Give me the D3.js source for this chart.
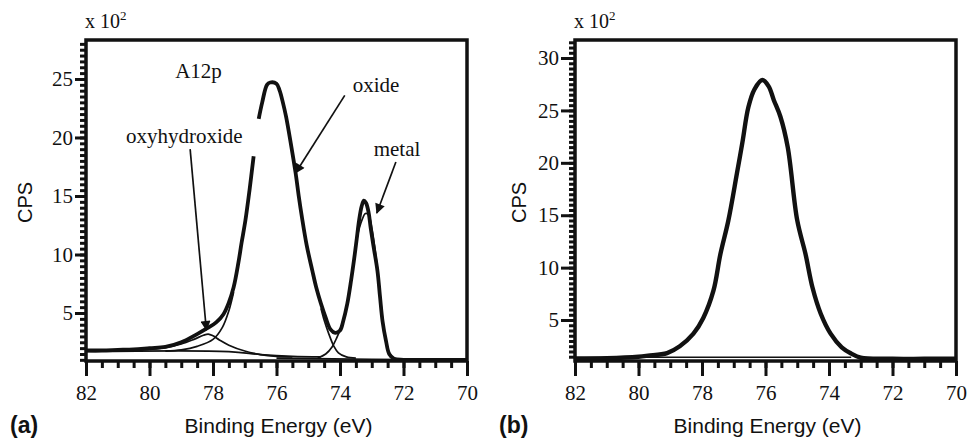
<!DOCTYPE html>
<html>
<head>
<meta charset="utf-8">
<script src="https://cdn.jsdelivr.net/npm/d3@7/dist/d3.min.js"></script>
<style>
	html, body { margin: 0; padding: 0; background: #fff; }
	svg { display: block; }
</style>
</head>
<body>
<svg id="figure" width="967" height="443"></svg>
<script>

// Binding energy ticks (eV), shared by both panels.
var energyMajorTicks = [ 82, 80, 78, 76, 74, 72, 70 ];
var energyMinorTicks = d3.range( 70, 82.01, 0.5 );

// CPS ticks, in units of 10^2.
var cpsMajorTicksA = [ 5, 10, 15, 20, 25 ];
var cpsMajorTicksB = [ 5, 10, 15, 20, 25, 30 ];
var cpsMinorTicksA = d3.range( 1, 28.3, 0.5 );
var cpsMinorTicksB = d3.range( 1.5, 31.7, 0.5 );

// Panel (a), Al 2p envelope, in two pieces (the trace has a break near 76.6 eV).
var envelopeLeftA = [
	[ 82.0, 1.8 ], [ 81.5, 1.8 ], [ 81.0, 1.85 ], [ 80.5, 1.9 ], [ 80.0, 2.0 ],
	[ 79.5, 2.1 ], [ 79.0, 2.5 ], [ 78.5, 3.2 ], [ 78.18, 3.7 ], [ 77.9, 4.2 ],
	[ 77.67, 4.9 ], [ 77.5, 5.9 ], [ 77.35, 7.2 ], [ 77.2, 9.3 ], [ 77.1, 11.0 ],
	[ 76.98, 12.9 ], [ 76.85, 15.5 ], [ 76.72, 18.4 ]
];
var envelopeRightA = [
	[ 76.56, 21.6 ], [ 76.45, 23.0 ], [ 76.3, 24.5 ], [ 76.2, 24.7 ], [ 76.0, 24.6 ],
	[ 75.9, 24.0 ], [ 75.8, 23.0 ], [ 75.7, 21.8 ], [ 75.55, 19.5 ], [ 75.4, 17.0 ],
	[ 75.3, 15.0 ], [ 75.2, 13.2 ], [ 75.05, 10.8 ], [ 74.87, 8.6 ], [ 74.75, 7.2 ],
	[ 74.6, 5.8 ], [ 74.45, 4.6 ], [ 74.3, 3.6 ], [ 74.15, 3.3 ], [ 74.0, 3.5 ],
	[ 73.9, 4.3 ], [ 73.77, 5.8 ], [ 73.65, 7.8 ], [ 73.56, 9.5 ], [ 73.47, 11.4 ],
	[ 73.4, 12.9 ], [ 73.32, 14.1 ], [ 73.25, 14.6 ], [ 73.18, 14.4 ], [ 73.1, 13.6 ],
	[ 73.03, 12.2 ], [ 72.95, 10.8 ], [ 72.82, 8.6 ], [ 72.74, 6.4 ], [ 72.66, 4.3 ],
	[ 72.55, 2.6 ], [ 72.45, 1.5 ], [ 72.3, 1.1 ], [ 72.0, 1.0 ], [ 71.0, 1.0 ], [ 70.0, 1.0 ]
];

// Panel (a), fitted components.
var oxyhydroxideA = [
	[ 80.5, 1.8 ], [ 80.0, 1.9 ], [ 79.5, 2.05 ], [ 79.0, 2.35 ], [ 78.6, 2.75 ],
	[ 78.3, 3.1 ], [ 78.15, 3.2 ], [ 78.0, 3.05 ], [ 77.8, 2.7 ], [ 77.5, 2.25 ],
	[ 77.0, 1.75 ], [ 76.5, 1.45 ], [ 76.0, 1.3 ], [ 75.5, 1.25 ]
];
var oxideLeftA = [
	[ 79.5, 1.75 ], [ 79.0, 1.85 ], [ 78.5, 2.15 ], [ 78.0, 2.75 ], [ 77.7, 3.8 ], [ 77.5, 5.2 ], [ 77.35, 6.8 ]
];
var oxideRightA = [
	[ 74.6, 5.4 ], [ 74.5, 4.4 ], [ 74.35, 3.2 ], [ 74.2, 2.2 ], [ 74.05, 1.6 ], [ 73.8, 1.25 ], [ 73.5, 1.15 ]
];
var metalA = [
	[ 74.7, 1.15 ], [ 74.45, 1.5 ], [ 74.25, 2.1 ], [ 74.1, 2.9 ], [ 73.95, 3.9 ],
	[ 73.8, 5.4 ], [ 73.6, 8.8 ], [ 73.45, 11.6 ], [ 73.3, 13.0 ], [ 73.2, 13.5 ],
	[ 73.1, 13.4 ], [ 73.0, 12.3 ], [ 72.9, 10.5 ], [ 72.78, 7.8 ], [ 72.68, 5.0 ],
	[ 72.58, 3.0 ], [ 72.48, 1.8 ], [ 72.35, 1.2 ], [ 72.2, 1.05 ]
];
var backgroundUpperA = [ [ 82.0, 1.7 ], [ 77.5, 1.7 ], [ 76.5, 1.45 ], [ 75.5, 1.3 ], [ 74.6, 1.25 ] ];
var backgroundLowerA = [ [ 76.0, 1.15 ], [ 73.0, 1.05 ], [ 70.0, 1.0 ] ];

// Panel (b), single oxide peak.
var spectrumB = [
	[ 82.0, 1.3 ], [ 81.0, 1.35 ], [ 80.0, 1.5 ], [ 79.7, 1.6 ], [ 79.1, 1.85 ],
	[ 78.7, 2.5 ], [ 78.27, 3.7 ], [ 77.96, 5.2 ], [ 77.64, 7.8 ], [ 77.42, 11.3 ],
	[ 77.17, 14.5 ], [ 76.9, 19.0 ], [ 76.73, 21.9 ], [ 76.54, 25.3 ], [ 76.35, 27.0 ],
	[ 76.1, 27.9 ], [ 75.9, 27.3 ], [ 75.74, 26.0 ], [ 75.53, 24.4 ], [ 75.3, 21.5 ],
	[ 75.0, 14.5 ], [ 74.74, 11.3 ], [ 74.52, 8.1 ], [ 74.26, 5.6 ], [ 73.95, 3.7 ],
	[ 73.6, 2.4 ], [ 73.3, 1.8 ], [ 73.0, 1.4 ], [ 72.0, 1.3 ], [ 71.0, 1.3 ], [ 70.0, 1.3 ]
];
var backgroundB = [ [ 82.0, 1.45 ], [ 73.3, 1.45 ] ];

// Labels and arrows of panel (a), in data coordinates.
var notesA = [
	{ text: 'A12p', at: [ 79.19, 25.1 ] },
	{ text: 'oxide', at: [ 73.6, 23.9 ] },
	{ text: 'oxyhydroxide', at: [ 80.74, 19.55 ] },
	{ text: 'metal', at: [ 72.94, 18.42 ] }
];
var arrowsA = [
	[ [ 78.72, 19.0 ], [ 78.21, 3.55 ] ],
	[ [ 73.85, 23.6 ], [ 75.4, 16.97 ] ],
	[ [ 72.24, 17.9 ], [ 72.84, 13.55 ] ]
];


var SERIF = '"Liberation Serif", "Times New Roman", serif';
var SANS = '"Liberation Sans", Arial, sans-serif';


window.xpsFigure = {

	/**
	 * @private
	 * Frame of each panel in page pixels.
	 */
	_panels: [
		{ tag: '(a)', left: 86, right: 467, top: 40, bottom: 361, yDomain: [ 0.9, 28.33 ], yTickSize: 11, cpsX: 25 },
		{ tag: '(b)', left: 575, right: 956, top: 40, bottom: 361, yDomain: [ 1.09, 31.72 ], yTickSize: 14, cpsX: 519 }
	],

	_serif: function ( sel, size ) {
		return sel.style( 'font-family', SERIF ).style( 'font-size', size + 'px' ).attr( 'fill', '#111' );
	},

	_drawFrame: function ( g, p, x, y, major, minor ) {

		// Minor ticks first, majors on top.
		g.append( 'g' )
			.attr( 'transform', 'translate(0,' + p.bottom + ')' )
			.call( d3.axisBottom( x ).tickValues( energyMinorTicks ).tickSize( 7 ).tickFormat( '' ) );

		g.append( 'g' )
			.attr( 'transform', 'translate(0,' + p.bottom + ')' )
			.call( d3.axisBottom( x ).tickValues( energyMajorTicks ).tickSize( 15 ).tickPadding( 9 ).tickFormat( d3.format( 'd' ) ) );

		g.append( 'g' )
			.attr( 'transform', 'translate(' + p.left + ',0)' )
			.call( d3.axisLeft( y ).tickValues( minor ).tickSize( 6 ).tickFormat( '' ) );

		g.append( 'g' )
			.attr( 'transform', 'translate(' + p.left + ',0)' )
			.call( d3.axisLeft( y ).tickValues( major ).tickSize( p.yTickSize ).tickPadding( 2 ).tickFormat( d3.format( 'd' ) ) );

		g.selectAll( '.domain' ).remove();
		g.selectAll( '.tick line' ).attr( 'stroke', '#111' ).attr( 'stroke-width', 3 );
		this._serif( g.selectAll( '.tick text' ), 21 );

		g.append( 'rect' )
			.attr( 'x', p.left )
			.attr( 'y', p.top )
			.attr( 'width', p.right - p.left )
			.attr( 'height', p.bottom - p.top )
			.attr( 'fill', 'none' )
			.attr( 'stroke', '#111' )
			.attr( 'stroke-width', 3.5 );

		// Titles.
		var xLabel = this._serif( g.append( 'text' ), 20 )
			.attr( 'x', p.left - 1 )
			.attr( 'y', 28 );
		xLabel.append( 'tspan' ).text( 'x 10' );
		xLabel.append( 'tspan' ).attr( 'dy', -8 ).style( 'font-size', '13px' ).text( '2' );

		g.append( 'text' )
			.style( 'font-family', SANS )
			.style( 'font-size', '20px' )
			.attr( 'fill', '#111' )
			.attr( 'text-anchor', 'middle' )
			.attr( 'transform', 'translate(' + ( p.cpsX + 7 ) + ',' + ( ( p.top + p.bottom ) / 2 + 2 ) + ') rotate(-90)' )
			.text( 'CPS' );

		g.append( 'text' )
			.style( 'font-family', SANS )
			.style( 'font-size', '21px' )
			.attr( 'fill', '#111' )
			.attr( 'text-anchor', 'middle' )
			.attr( 'x', ( p.left + p.right ) / 2 + 2 )
			.attr( 'y', 433 )
			.text( 'Binding Energy (eV)' );

		g.append( 'text' )
			.style( 'font-family', SANS )
			.style( 'font-size', '23px' )
			.style( 'font-weight', 'bold' )
			.attr( 'fill', '#111' )
			.attr( 'x', p.left - 76 )
			.attr( 'y', 433 )
			.text( p.tag );

	},

	_line: function ( x, y ) {
		return d3.line()
			.x( function ( d ) { return x( d[0] ); } )
			.y( function ( d ) { return y( d[1] ); } )
			.curve( d3.curveCatmullRom.alpha( 0.5 ) );
	},

	_drawPanelA: function ( svg ) {

		var p = this._panels[0];
		var x = d3.scaleLinear().domain( [ 82, 70 ] ).range( [ p.left, p.right ] );
		var y = d3.scaleLinear().domain( p.yDomain ).range( [ p.bottom, p.top ] );
		var line = this._line( x, y );
		var g = svg.append( 'g' );

		var thin = [ backgroundUpperA, backgroundLowerA, oxyhydroxideA, oxideLeftA, oxideRightA, metalA ];
		g.selectAll( 'path.component' )
			.data( thin )
			.enter()
			.append( 'path' )
			.classed( 'component', true )
			.attr( 'd', line )
			.attr( 'fill', 'none' )
			.attr( 'stroke', '#111' )
			.attr( 'stroke-width', 1.7 );

		g.selectAll( 'path.envelope' )
			.data( [ envelopeLeftA, envelopeRightA ] )
			.enter()
			.append( 'path' )
			.classed( 'envelope', true )
			.attr( 'd', line )
			.attr( 'fill', 'none' )
			.attr( 'stroke', '#111' )
			.attr( 'stroke-width', 3.8 )
			.attr( 'stroke-linejoin', 'round' );

		g.selectAll( 'line.arrow' )
			.data( arrowsA )
			.enter()
			.append( 'line' )
			.classed( 'arrow', true )
			.attr( 'x1', function ( d ) { return x( d[0][0] ); } )
			.attr( 'y1', function ( d ) { return y( d[0][1] ); } )
			.attr( 'x2', function ( d ) { return x( d[1][0] ); } )
			.attr( 'y2', function ( d ) { return y( d[1][1] ); } )
			.attr( 'stroke', '#111' )
			.attr( 'stroke-width', 1.7 )
			.attr( 'marker-end', 'url(#arrowhead)' );

		this._serif( g.selectAll( 'text.note' )
			.data( notesA )
			.enter()
			.append( 'text' )
			.attr( 'class', 'note' ), 21 )
			.attr( 'x', function ( d ) { return x( d.at[0] ); } )
			.attr( 'y', function ( d ) { return y( d.at[1] ); } )
			.text( function ( d ) { return d.text; } );

		this._drawFrame( g, p, x, y, cpsMajorTicksA, cpsMinorTicksA );

	},

	_drawPanelB: function ( svg ) {

		var p = this._panels[1];
		var x = d3.scaleLinear().domain( [ 82, 70 ] ).range( [ p.left, p.right ] );
		var y = d3.scaleLinear().domain( p.yDomain ).range( [ p.bottom, p.top ] );
		var line = this._line( x, y );
		var g = svg.append( 'g' );

		g.append( 'path' )
			.datum( backgroundB )
			.attr( 'd', line )
			.attr( 'fill', 'none' )
			.attr( 'stroke', '#111' )
			.attr( 'stroke-width', 1.7 );

		g.append( 'path' )
			.datum( spectrumB )
			.attr( 'd', line )
			.attr( 'fill', 'none' )
			.attr( 'stroke', '#111' )
			.attr( 'stroke-width', 4.4 )
			.attr( 'stroke-linejoin', 'round' );

		this._drawFrame( g, p, x, y, cpsMajorTicksB, cpsMinorTicksB );

	},

	on: function () {
		var svg = d3.select( '#figure' );

		svg.append( 'defs' ).append( 'marker' )
			.attr( 'id', 'arrowhead' )
			.attr( 'viewBox', '0 0 10 10' )
			.attr( 'refX', 9 )
			.attr( 'refY', 5 )
			.attr( 'markerWidth', 11 )
			.attr( 'markerHeight', 10 )
			.attr( 'markerUnits', 'userSpaceOnUse' )
			.attr( 'orient', 'auto' )
			.append( 'path' )
			.attr( 'd', 'M0,0 L10,5 L0,10 Z' )
			.attr( 'fill', '#111' );

		this._drawPanelA( svg );
		this._drawPanelB( svg );
	}

};

window.xpsFigure.on();
</script>
</body>
</html>
